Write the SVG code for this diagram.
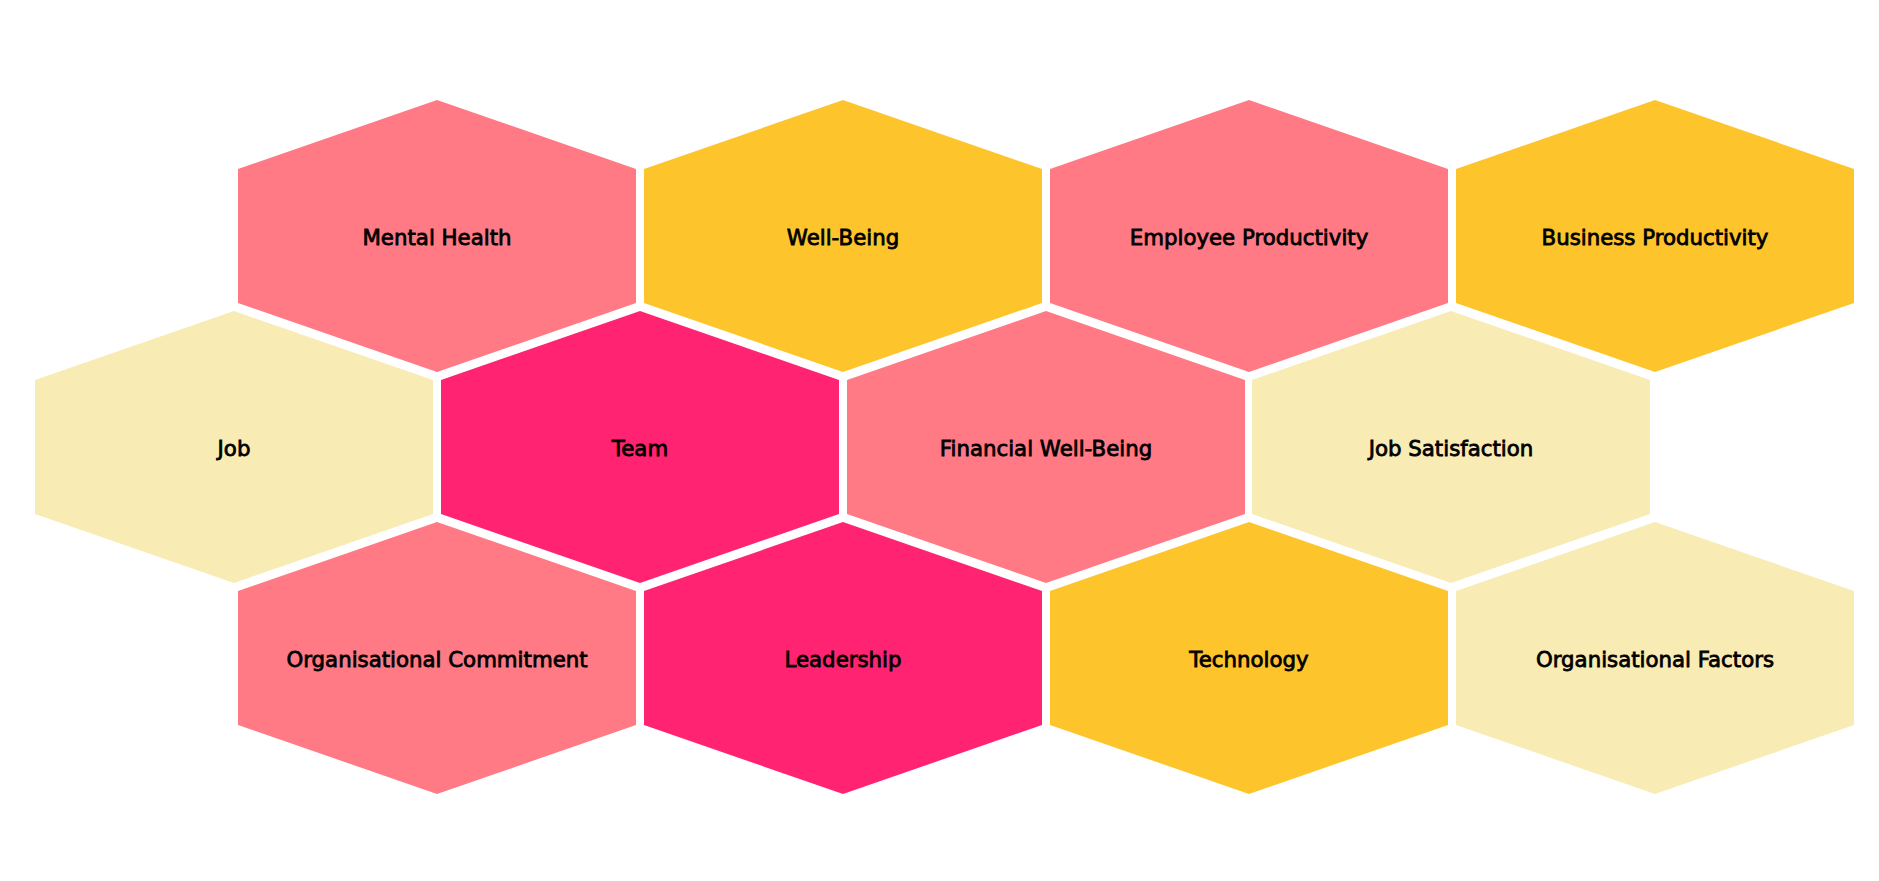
<svg xmlns="http://www.w3.org/2000/svg" width="1879" height="881" viewBox="0 0 1879 881">
<style>
.hex{stroke:none}
.c1{fill:#ff7a85}
.c2{fill:#fec42b}
.c3{fill:#f8ebb4}
.c4{fill:#ff2371}
.lbl{font-family:"DejaVu Sans",sans-serif;font-weight:normal;font-size:21.3px;fill:#000;stroke:#000;stroke-width:0.8;text-anchor:middle}
</style>
<defs>
<polygon id="hx" points="0,-136 199,-67 199,67 0,136 -199,67 -199,-67"/>
</defs>
<rect width="1879" height="881" fill="#ffffff"/>
<g id="mental-health" transform="translate(437,236)"><use href="#hx" class="hex c1"/><text class="lbl" y="9">Mental Health</text></g>
<g id="well-being" transform="translate(843,236)"><use href="#hx" class="hex c2"/><text class="lbl" y="9">Well-Being</text></g>
<g id="employee-productivity" transform="translate(1249,236)"><use href="#hx" class="hex c1"/><text class="lbl" y="9">Employee Productivity</text></g>
<g id="business-productivity" transform="translate(1655,236)"><use href="#hx" class="hex c2"/><text class="lbl" y="9">Business Productivity</text></g>
<g id="job" transform="translate(234,447)"><use href="#hx" class="hex c3"/><text class="lbl" y="9">Job</text></g>
<g id="team" transform="translate(640,447)"><use href="#hx" class="hex c4"/><text class="lbl" y="9">Team</text></g>
<g id="financial-well-being" transform="translate(1046,447)"><use href="#hx" class="hex c1"/><text class="lbl" y="9">Financial Well-Being</text></g>
<g id="job-satisfaction" transform="translate(1451,447)"><use href="#hx" class="hex c3"/><text class="lbl" y="9">Job Satisfaction</text></g>
<g id="organisational-commitment" transform="translate(437,658)"><use href="#hx" class="hex c1"/><text class="lbl" y="9">Organisational Commitment</text></g>
<g id="leadership" transform="translate(843,658)"><use href="#hx" class="hex c4"/><text class="lbl" y="9">Leadership</text></g>
<g id="technology" transform="translate(1249,658)"><use href="#hx" class="hex c2"/><text class="lbl" y="9">Technology</text></g>
<g id="organisational-factors" transform="translate(1655,658)"><use href="#hx" class="hex c3"/><text class="lbl" y="9">Organisational Factors</text></g>
<g id="connectors"></g>
</svg>
